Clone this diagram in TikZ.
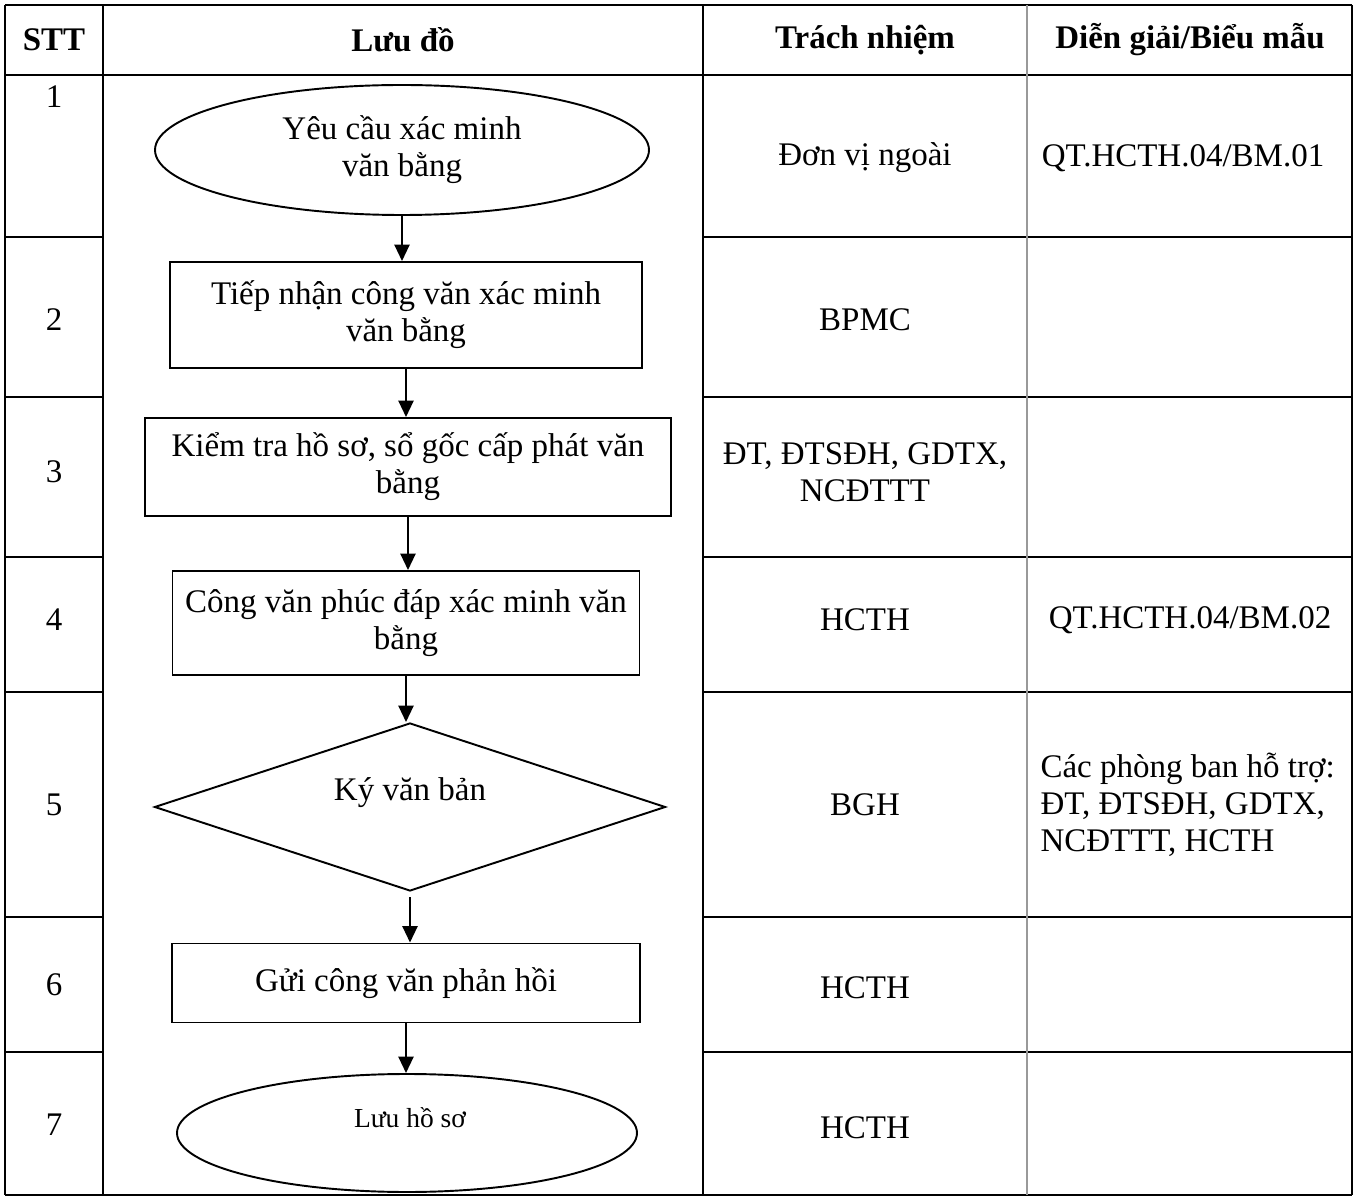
\documentclass[tikz,border=0pt]{standalone}
\usepackage{fontspec}
\setmainfont{Liberation Serif}
\usetikzlibrary{shapes.geometric,arrows.meta}
\newcommand{\pxu}{0.01278cm}

\begin{document}
\begin{tikzpicture}[x=\pxu, y=-\pxu,
  font=\fontsize{12pt}{13.5pt}\selectfont,
  hline/.style={black, line width=1pt},
  vline/.style={black, line width=0.5pt},
  cell/.style={inner sep=0pt, align=center},
  head/.style={cell, font=\fontsize{12pt}{13.5pt}\selectfont\bfseries},
  procbox/.style={draw, line width=0.7pt, rectangle, inner sep=0pt, align=center},
  termbox/.style={draw, line width=0.7pt, ellipse, inner sep=0pt, align=center},
  decbox/.style={draw, line width=0.7pt, diamond, inner sep=0pt},
  flow/.style={line width=0.8pt, -{Triangle[length=6pt, width=5.5pt]}}]
  \useasboundingbox (0,0) rectangle (1355,1198);
  \draw[hline] (5,5) -- (1352,5);
  \draw[hline] (5,75) -- (1352,75);
  \draw[hline] (5,237) -- (103,237);
  \draw[hline] (5,397) -- (103,397);
  \draw[hline] (5,557) -- (103,557);
  \draw[hline] (5,692) -- (103,692);
  \draw[hline] (5,917) -- (103,917);
  \draw[hline] (5,1052) -- (103,1052);
  \draw[hline] (703,237) -- (1352,237);
  \draw[hline] (703,397) -- (1352,397);
  \draw[hline] (703,557) -- (1352,557);
  \draw[hline] (703,692) -- (1352,692);
  \draw[hline] (703,917) -- (1352,917);
  \draw[hline] (703,1052) -- (1352,1052);
  \draw[hline] (5,1195) -- (1352,1195);
  \draw[hline] (5,5) -- (5,1195);
  \draw[vline, line width=0.8pt] (103,5) -- (103,1195);
  \draw[vline] (703,5) -- (703,1195);
  \draw[vline, gray!80] (1027,5) -- (1027,1195);
  \draw[hline] (1352,5) -- (1352,1195);
  \node[head] (hstt) at (54,40) {STT};
  \node[head] (hluu) at (403,40) {Lưu đồ};
  \node[head] (htn) at (865,40) {Trách nhiệm};
  \node[head] (hdg) at (1190,40) {Diễn giải/Biểu mẫu};
  \node[cell] (n1) at (54,97) {1};
  \node[cell] (n2) at (54,320) {2};
  \node[cell] (n3) at (54,472) {3};
  \node[cell] (n4) at (54,620) {4};
  \node[cell] (n5) at (54,805) {5};
  \node[cell] (n6) at (54,985) {6};
  \node[cell] (n7) at (54,1125) {7};
  \node[termbox, minimum width=494*\pxu, minimum height=130*\pxu] (yeucau) at (402,150) {Yêu cầu xác minh\\văn bằng};
  \node[procbox, minimum width=472*\pxu, minimum height=106*\pxu] (tiepnhan) at (406,315) {Tiếp nhận công văn xác minh\\văn bằng};
  \node[procbox, minimum width=526*\pxu, minimum height=98*\pxu] (kiemtra) at (408,467) {Kiểm tra hồ sơ, sổ gốc cấp phát văn\\bằng};
  \node[procbox, minimum width=467*\pxu, minimum height=104*\pxu] (phucdap) at (406,623) {Công văn phúc đáp xác minh văn\\bằng};
  \node[decbox, minimum width=511*\pxu, minimum height=168*\pxu] (kyvb) at (410,807) {};
  \node[cell] (kyvbtxt) at (410,793) {Ký văn bản};
  \node[procbox, minimum width=468*\pxu, minimum height=79*\pxu] (guicv) at (406,983) {Gửi công văn phản hồi};
  \node[termbox, minimum width=460*\pxu, minimum height=118*\pxu] (luuhs) at (407,1133) {};
  \node[cell, font=\fontsize{10pt}{12pt}\selectfont] (luuhstxt) at (410,1118) {Lưu hồ sơ};
  \draw[flow] (yeucau.south) -- (yeucau.south |- tiepnhan.north);
  \draw[flow] (tiepnhan.south) -- (tiepnhan.south |- kiemtra.north);
  \draw[flow] (kiemtra.south) -- (kiemtra.south |- phucdap.north);
  \draw[flow] (phucdap.south) -- (phucdap.south |- kyvb.north);
  \draw[flow, shorten <=2pt] (kyvb.south) -- (kyvb.south |- guicv.north);
  \draw[flow] (guicv.south) -- (guicv.south |- luuhs.north);
  \node[cell] (tn1) at (865,158) {Đơn vị ngoài};
  \node[cell] (tn2) at (865,320) {BPMC};
  \node[cell] (tn3) at (865,472) {ĐT, ĐTSĐH, GDTX,\\NCĐTTT};
  \node[cell] (tn4) at (865,620) {HCTH};
  \node[cell] (tn5) at (865,805) {BGH};
  \node[cell] (tn6) at (865,988) {HCTH};
  \node[cell] (tn7) at (865,1128) {HCTH};
  \node[cell] (dg1) at (1183,158) {QT.HCTH.04/BM.01};
  \node[cell] (dg4) at (1190,620) {QT.HCTH.04/BM.02};
  \node[cell, align=left, anchor=west] (dg5) at (1040,805) {Các phòng ban hỗ trợ:\\ĐT, ĐTSĐH, GDTX,\\NCĐTTT, HCTH};
\end{tikzpicture}
\end{document}
